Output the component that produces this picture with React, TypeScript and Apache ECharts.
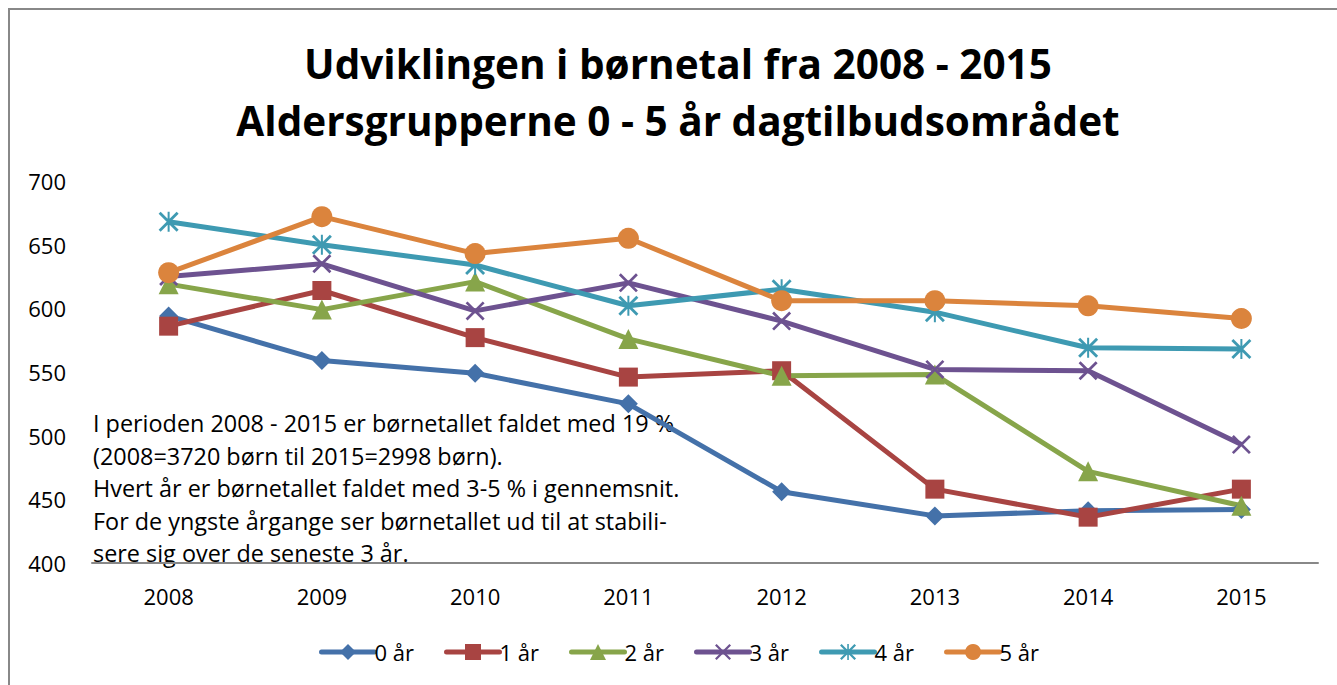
import React, { useEffect, useRef } from "react";
import * as echarts from "echarts";

const years = ["2008", "2009", "2010", "2011", "2012", "2013", "2014", "2015"];
const seriesNames = ["0 år", "1 år", "2 år", "3 år", "4 år", "5 år"];
const age0 = [594, 559, 549, 525, 456, 437, 441, 442];
const age1 = [586, 614, 577, 546, 551, 458, 436, 458];
const age2 = [619, 599, 621, 576, 547, 548, 472, 445];
const age3 = [625, 635, 598, 620, 590, 552, 551, 493];
const age4 = [668, 650, 634, 602, 615, 597, 569, 568];
const age5 = [628, 672, 643, 655, 606, 606, 602, 592];
const yTicks = { min: 400, max: 700, interval: 50 };
const titleLines = ["Udviklingen i børnetal fra 2008 - 2015", "Aldersgrupperne 0 - 5 år dagtilbudsområdet"];
const noteLines = [
  "I perioden 2008 - 2015 er børnetallet faldet med 19 %",
  "(2008=3720 børn til 2015=2998 børn).",
  "Hvert år er børnetallet faldet med 3-5 % i gennemsnit.",
  "For de yngste årgange ser børnetallet ud til at stabili-",
  "sere sig over de seneste 3 år.",
];

const colors = ["#4471A9", "#A84442", "#87A54A", "#6D5290", "#3E9AB2", "#DB843D"];
const X_PATH = "path://M0,1 L1,0 L10,9 L9,10 Z M9,0 L10,1 L1,10 L0,9 Z";
const STAR_PATH =
  "path://M0,1 L1,0 L10,9 L9,10 Z M9,0 L10,1 L1,10 L0,9 Z M4.5,0 L5.5,0 L5.5,10 L4.5,10 Z";
const symbols = ["diamond", "rect", "triangle", X_PATH, STAR_PATH, "circle"];
const symbolSizes = [19, 19, 20, 19, 20, 21];

const FONT = "Open Sans";

export default function App() {
  const ref = useRef<HTMLDivElement>(null);
  useEffect(() => {
    if (!ref.current) return;
    const chart = echarts.init(ref.current, null, { renderer: "svg" });
    const data = [age0, age1, age2, age3, age4, age5];
    chart.setOption({
      animation: false,
      textStyle: { fontFamily: FONT },
      grid: { left: 92, right: 19, top: 181, bottom: 122, containLabel: false },
      xAxis: {
        type: "category",
        data: years,
        boundaryGap: true,
        axisLine: { show: true, lineStyle: { color: "#888", width: 2 } },
        axisTick: { show: false },
        axisLabel: { color: "#000", fontSize: 22, margin: 22, fontFamily: FONT },
      },
      yAxis: {
        type: "value",
        min: yTicks.min,
        max: yTicks.max,
        interval: yTicks.interval,
        axisLine: { show: false },
        axisTick: { show: false },
        splitLine: { show: false },
        axisLabel: { color: "#000", fontSize: 22, margin: 26, align: "right", fontFamily: FONT },
      },
      legend: {
        bottom: 17,
        left: 314,
        itemWidth: 53,
        itemHeight: 20,
        itemGap: 30,
        lineStyle: { width: 5, cap: "round" },
        textStyle: { fontSize: 22, color: "#000", fontFamily: FONT, padding: [0, 0, 0, -5] },
        data: seriesNames,
      },
      graphic: [
        {
          type: "rect",
          z: -10,
          shape: { x: 9, y: 9, width: 1400, height: 800 },
          style: { fill: "none", stroke: "#888", lineWidth: 2 },
        },
        {
          type: "text",
          z: 10,
          x: 678,
          y: 63,
          style: {
            text: titleLines[0],
            font: `bold 40.5px "${FONT}"`,
            fill: "#000",
            textAlign: "center",
            textVerticalAlign: "middle",
          },
        },
        {
          type: "text",
          z: 10,
          x: 678,
          y: 120,
          style: {
            text: titleLines[1],
            font: `bold 40.5px "${FONT}"`,
            fill: "#000",
            textAlign: "center",
            textVerticalAlign: "middle",
          },
        },
        ...noteLines.map((t, i) => ({
          type: "text",
          z: -5,
          x: 93,
          y: 423 + i * 32.6,
          style: {
            text: t,
            font: `23.4px "${FONT}"`,
            fill: "#000",
            textAlign: "left",
            textVerticalAlign: "middle",
          },
        })),
      ],
      series: data.map((d, i) => ({
        name: seriesNames[i],
        type: "line",
        data: d,
        symbol: symbols[i],
        symbolSize: symbolSizes[i],
        showAllSymbol: true,
        lineStyle: { color: colors[i], width: 5 },
        itemStyle: { color: colors[i], borderWidth: 0 },
        emphasis: { disabled: true },
      })),
    });
    return () => chart.dispose();
  }, []);
  return (
    <div
      ref={ref}
      style={{ position: "fixed", left: 0, top: 0, width: 1337, height: 685, background: "#fff" }}
    />
  );
}
